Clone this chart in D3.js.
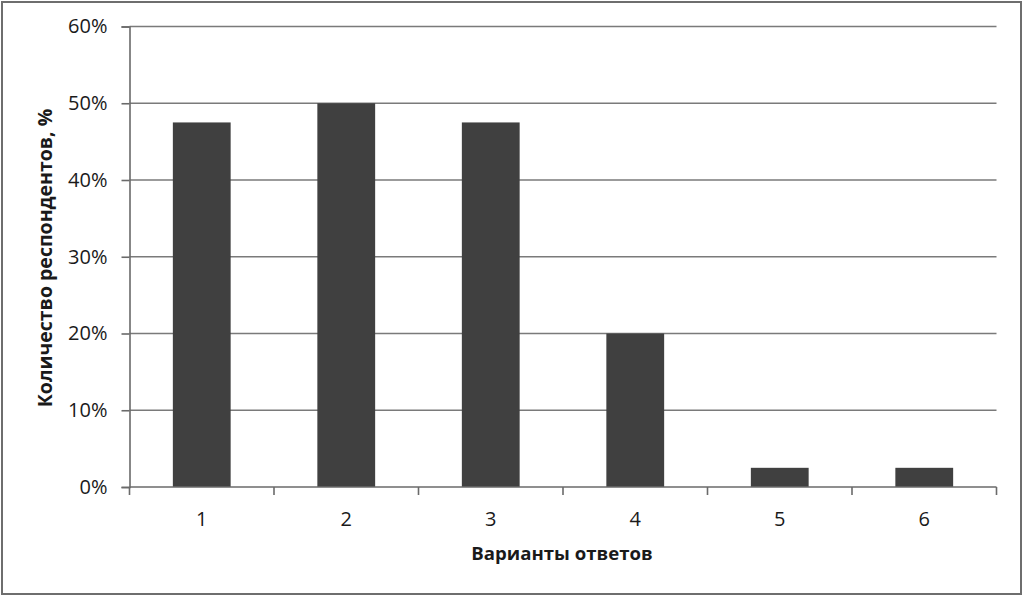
<!DOCTYPE html>
<html>
<head>
<meta charset="utf-8">
<script src="https://cdn.jsdelivr.net/npm/d3@7"></script>
<style>
  html, body { margin: 0; padding: 0; background: #fff; }
  svg { display: block; font-family: "Open Sans", "Liberation Sans", sans-serif; }
</style>
</head>
<body>
<svg id="chart" width="1023" height="596"></svg>
<script>
const categories = ["1", "2", "3", "4", "5", "6"];
const shares = [0.475, 0.50, 0.475, 0.20, 0.025, 0.025];
const yTicks = [0, 0.1, 0.2, 0.3, 0.4, 0.5, 0.6];
const xTitle = "Варианты ответов";
const yTitle = "Количество респондентов, %";

const w = 1023;
const h = 596;
const plotLeft = 129.5, plotRight = 996.5, plotTop = 26.5, plotBottom = 487;

const svg = d3.select('#chart');

// outer frame
svg.append('rect')
  .attr('x', 2).attr('y', 2)
  .attr('width', w - 4).attr('height', h - 4)
  .attr('fill', '#fff')
  .attr('stroke', '#6e6e6e')
  .attr('stroke-width', 2);

const xScale = d3.scaleBand()
  .domain(categories)
  .range([plotLeft, plotRight])
  .paddingInner(0.6)
  .paddingOuter(0.3);

const yScale = d3.scaleLinear()
  .domain([0, 0.6])
  .range([plotBottom, plotTop]);

// gridlines
svg.append('g')
  .selectAll('line')
  .data(yTicks.filter(d => d > 0))
  .enter()
  .append('line')
  .attr('x1', plotLeft).attr('x2', plotRight)
  .attr('y1', d => yScale(d)).attr('y2', d => yScale(d))
  .attr('stroke', '#7a7a7a')
  .attr('stroke-width', 1.6);

// bars
svg.append('g')
  .selectAll('rect')
  .data(shares)
  .enter()
  .append('rect')
  .attr('x', (d, i) => xScale(categories[i]))
  .attr('y', d => yScale(d))
  .attr('width', xScale.bandwidth())
  .attr('height', d => plotBottom - yScale(d))
  .attr('fill', '#404040');

// y axis
const yAxis = d3.axisLeft(yScale)
  .tickValues(yTicks)
  .tickFormat(d3.format('.0%'))
  .tickSize(8)
  .tickPadding(14);

const gy = svg.append('g')
  .attr('transform', `translate(${plotLeft},0)`)
  .call(yAxis);

// x axis: ticks sit on category boundaries
const xEdges = d3.range(categories.length + 1).map(i => plotLeft + i * (plotRight - plotLeft) / categories.length);
const gx = svg.append('g');
gx.append('line')
  .attr('x1', plotLeft).attr('x2', plotRight)
  .attr('y1', plotBottom).attr('y2', plotBottom);
gx.selectAll('line.tick')
  .data(xEdges)
  .enter()
  .append('line')
  .attr('class', 'tick')
  .attr('x1', d => d).attr('x2', d => d)
  .attr('y1', plotBottom).attr('y2', plotBottom + 8);
gx.selectAll('text')
  .data(categories)
  .enter()
  .append('text')
  .attr('x', d => xScale(d) + xScale.bandwidth() / 2)
  .attr('y', plotBottom + 39)
  .attr('text-anchor', 'middle')
  .attr('font-size', 20)
  .attr('fill', '#1a1a1a')
  .text(d => d);
gx.selectAll('line').attr('stroke', '#6a6a6a').attr('stroke-width', 1.6);

gy.select('.domain').attr('stroke', '#6a6a6a').attr('stroke-width', 1.6);
gy.selectAll('.tick line').attr('stroke', '#6a6a6a').attr('stroke-width', 1.6);
gy.selectAll('.tick text')
  .attr('font-size', 20)
  .attr('font-family', '"Open Sans", sans-serif')
  .attr('fill', '#1a1a1a');

// titles
svg.append('text')
  .attr('x', 562)
  .attr('y', 560)
  .attr('text-anchor', 'middle')
  .attr('font-size', 18.6)
  .attr('font-weight', 'bold')
  .attr('fill', '#1a1a1a')
  .text(xTitle);

svg.append('text')
  .attr('transform', `translate(52, 258) rotate(-90)`)
  .attr('text-anchor', 'middle')
  .attr('font-size', 19.5)
  .attr('font-weight', 'bold')
  .attr('fill', '#1a1a1a')
  .text(yTitle);
</script>
</body>
</html>
